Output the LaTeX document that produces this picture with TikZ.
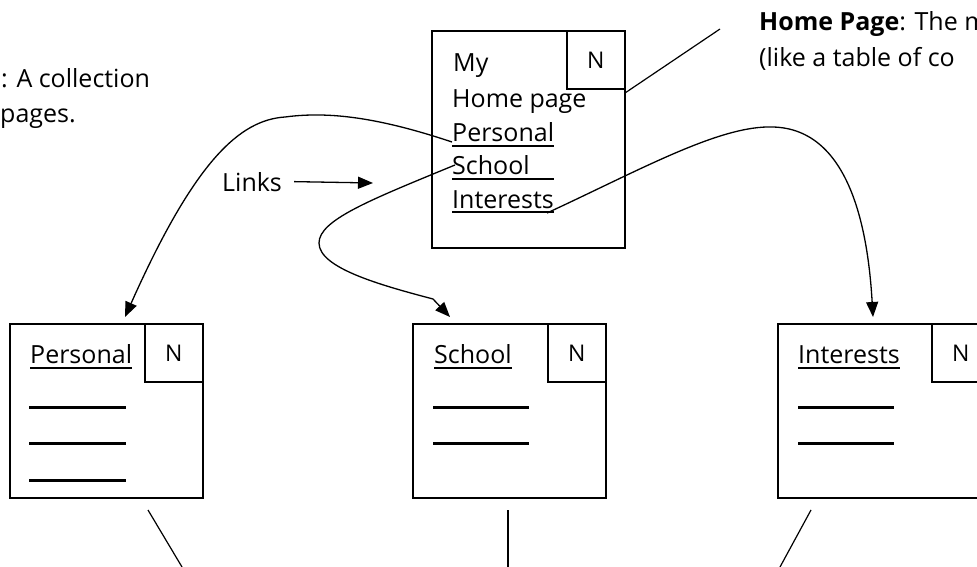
\documentclass[tikz,border=0pt]{standalone}
\usepackage{fontspec}
\setmainfont{Open Sans}
\usetikzlibrary{arrows.meta,calc}
\begin{document}
\begin{tikzpicture}[x=1pt,y=-1pt,
  pagebox/.style={draw, line width=1.6pt, inner sep=0pt, anchor=north west, minimum height=174pt},
  nbox/.style={draw, line width=1.6pt, inner sep=0pt, minimum width=58pt, minimum height=58pt, anchor=north west, font=\fontsize{23}{27}\selectfont},
  txt/.style={inner sep=0pt, anchor=base west, font=\fontsize{25}{30}\selectfont},
  uline/.style={line width=2.6pt},
  blank/.style={line width=3pt},
  link/.style={line width=1.3pt, -{Triangle[length=15pt,width=12pt]}},
  thinline/.style={line width=1.2pt}]
\useasboundingbox (0,0) rectangle (977,567);

% home page box
\node[pagebox, minimum width=193pt, minimum height=217pt] (home) at (431,30) {};
\node[nbox] (homeN) at (566,30) {N};
\node[txt] (my) at (453,72) {My};
\node[txt] (hp) at (452,108) {Home page};
\node[txt] (lp) at (452,142) {Personal};
\node[txt] (ls) at (452,175) {School};
\node[txt] (li) at (452,208) {Interests};
\draw[uline] ($(lp.base west)+(0,4)$) -- ($(lp.base east)+(0,4)$);
\draw[uline] ($(ls.base west)+(0,4)$) -- ($(lp.base east)+(0,37)$);
\draw[uline] ($(li.base west)+(0,4)$) -- ($(li.base east)+(0,4)$);

% lower boxes
\node[pagebox, minimum width=193pt] (pers) at (9,323) {};
\node[nbox] (persN) at (144,323) {N};
\node[txt] (tp) at (30,363) {Personal};
\draw[uline] ($(tp.base west)+(0,5)$) -- ($(tp.base east)+(0,5)$);
\draw[blank] (29,407) -- (126,407);
\draw[blank] (29,443) -- (126,443);
\draw[blank] (29,480) -- (126,480);

\node[pagebox, minimum width=193pt] (school) at (412,323) {};
\node[nbox] (schoolN) at (547,323) {N};
\node[txt] (ts) at (434,363) {School};
\draw[uline] ($(ts.base west)+(0,5)$) -- ($(ts.base east)+(0,5)$);
\draw[blank] (433,407) -- (529,407);
\draw[blank] (433,443) -- (529,443);

\node[pagebox, minimum width=212pt] (inter) at (777,323) {};
\node[nbox] (interN) at (931,323) {N};
\node[txt] (ti) at (798,363) {Interests};
\draw[uline] ($(ti.base west)+(0,5)$) -- ($(ti.base east)+(0,5)$);
\draw[blank] (798,407) -- (894,407);
\draw[blank] (798,443) -- (894,443);

% texts
\node[txt] (coll1) at (1,88) {: A collection};
\node[txt] (coll2) at (0,123) {pages.};
\node[txt] (hpd1) at (759,31) {\textbf{Home Page}: The m};
\node[txt] (hpd2) at (759,67) {(like a table of co};
\node[txt] (links) at (222,191) {Links};

% coordinates
\coordinate (ss) at (455,165);
\coordinate (is) at (547,213);
\coordinate (ptip) at (125,317);
\coordinate (stip) at (450,317);
\coordinate (itip) at (873,317);
\coordinate (ltip) at (373,183);
\coordinate (cA) at (625,93);
\coordinate (cB) at (720,29);
\coordinate (d1a) at (148,510);
\coordinate (d1b) at (182,567);
\coordinate (d2a) at (508,510);
\coordinate (d2b) at (508,567);
\coordinate (d3a) at (811,510);
\coordinate (d3b) at (780,567);

% links
\draw[link] (lp.base west) .. controls (380,118) and (330,111) .. (285,117)
  .. controls (240,120) and (195,160) .. (ptip);
\draw[link] (ss) .. controls (370,200) and (319,220) .. (319,243)
  .. controls (319,268) and (380,285) .. (433,299) -- (stip);
\draw[link] (is) .. controls (640,170) and (720,125) .. (773,127)
  .. controls (850,129) and (868,230) .. (itip);
\draw[link] ($(links.east)+(12,0)$) -- (ltip);
\draw[thinline] (cA) -- (cB);
\draw[thinline] (d1a) -- (d1b);
\draw[thinline] (d2a) -- (d2b);
\draw[thinline] (d3a) -- (d3b);
\end{tikzpicture}
\end{document}
